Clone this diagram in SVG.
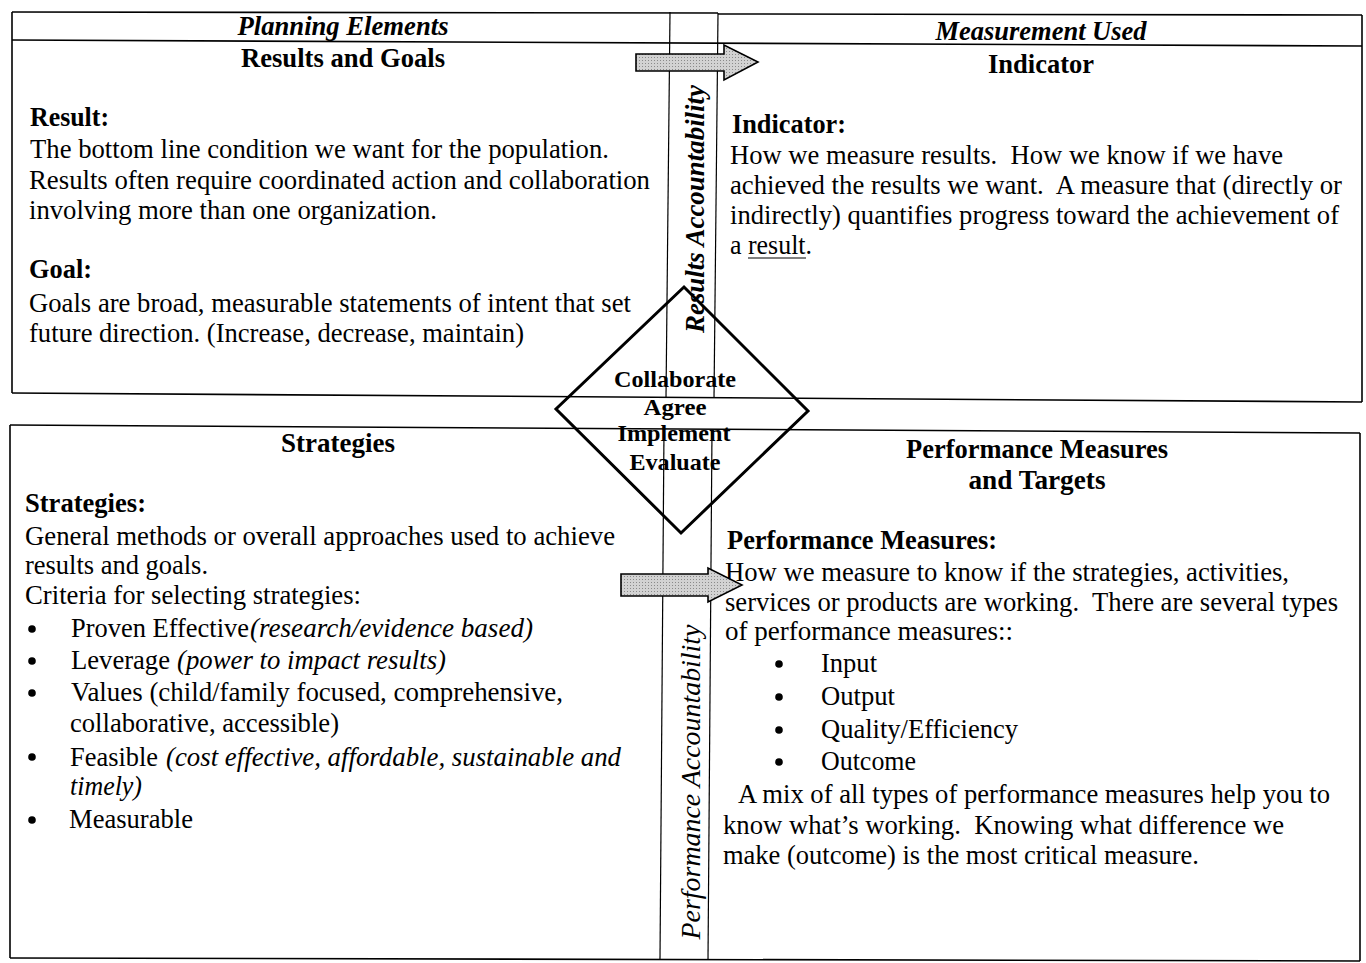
<svg xmlns="http://www.w3.org/2000/svg" width="1366" height="963" viewBox="0 0 1366 963" font-family="Liberation Serif, serif" font-size="26.5">
<defs>
<style>
.b{font-weight:bold}
.i{font-style:italic}
.bi{font-weight:bold;font-style:italic}
.c{text-anchor:middle}
.dm{font-size:24px;font-weight:bold;text-anchor:middle}
.ln{stroke:#000;stroke-width:1.6;fill:none}
.thin{stroke:#000;stroke-width:1.2;fill:none}
.arrow{stroke:#000;stroke-width:1.6;stroke-linejoin:miter}
</style>
<pattern id="stip" width="3" height="3" patternUnits="userSpaceOnUse">
<rect width="3" height="3" fill="#d2d2d2"/>
<rect width="1" height="1" fill="#8a8a8a"/>
</pattern>
</defs>
<rect width="1366" height="963" fill="#fff"/>
<g id="frame">
<line class="ln" x1="12" y1="12" x2="718" y2="13"/>
<line class="ln" x1="718" y1="14" x2="1362" y2="15"/>
<line class="ln" x1="12" y1="40" x2="1362" y2="46"/>
<line class="ln" x1="12" y1="12" x2="12" y2="393"/>
<line class="ln" x1="1362" y1="15" x2="1362" y2="402"/>
<line class="ln" x1="12" y1="393" x2="1362" y2="402"/>
<line class="thin" x1="670" y1="12" x2="666" y2="397"/>
<line class="thin" x1="718" y1="13" x2="714" y2="398"/>
<line class="ln" x1="10" y1="425" x2="1360" y2="433"/>
<line class="ln" x1="10" y1="425" x2="10" y2="958"/>
<line class="ln" x1="1360" y1="433" x2="1360" y2="961"/>
<line class="ln" x1="10" y1="958" x2="1360" y2="961"/>
<line class="thin" x1="664" y1="429" x2="660" y2="959"/>
<line class="thin" x1="712" y1="430" x2="708" y2="960"/>
</g>
<g id="headers" font-family="Liberation Serif, serif">
<text class="bi c" x="343" y="35" textLength="211" lengthAdjust="spacingAndGlyphs">Planning Elements</text>
<text class="bi c" x="1041" y="40" textLength="211" lengthAdjust="spacingAndGlyphs">Measurement Used</text>
</g>
<g id="node-results-goals" font-family="Liberation Serif, serif">
<text class="b c" x="343" y="67" textLength="204" lengthAdjust="spacingAndGlyphs">Results and Goals</text>
<text class="b" x="30" y="126" textLength="79" lengthAdjust="spacingAndGlyphs">Result:</text>
<text x="30" y="158" textLength="579" lengthAdjust="spacingAndGlyphs">The bottom line condition we want for the population.</text>
<text x="29" y="189" textLength="621" lengthAdjust="spacingAndGlyphs">Results often require coordinated action and collaboration</text>
<text x="29" y="219" textLength="408" lengthAdjust="spacingAndGlyphs">involving more than one organization.</text>
<text class="b" x="29" y="278" textLength="63" lengthAdjust="spacingAndGlyphs">Goal:</text>
<text x="29" y="312" textLength="602" lengthAdjust="spacingAndGlyphs">Goals are broad, measurable statements of intent that set</text>
<text x="29" y="342" textLength="495" lengthAdjust="spacingAndGlyphs">future direction. (Increase, decrease, maintain)</text>
</g>
<g id="node-indicator" font-family="Liberation Serif, serif">
<text class="b c" x="1041" y="73" textLength="106" lengthAdjust="spacingAndGlyphs">Indicator</text>
<text class="b" x="732" y="133" textLength="114" lengthAdjust="spacingAndGlyphs">Indicator:</text>
<text x="730" y="164" textLength="553" lengthAdjust="spacingAndGlyphs" xml:space="preserve">How we measure results.  How we know if we have</text>
<text x="730" y="194" textLength="612" lengthAdjust="spacingAndGlyphs" xml:space="preserve">achieved the results we want.  A measure that (directly or</text>
<text x="730" y="224" textLength="609" lengthAdjust="spacingAndGlyphs">indirectly) quantifies progress toward the achievement of</text>
<text x="730" y="254" textLength="82" lengthAdjust="spacingAndGlyphs">a result.</text>
<line class="thin" x1="748" y1="258" x2="806" y2="258"/>
</g>
<g id="node-strategies" font-family="Liberation Serif, serif">
<text class="b c" x="338" y="452" textLength="114" lengthAdjust="spacingAndGlyphs">Strategies</text>
<text class="b" x="25" y="512" textLength="121" lengthAdjust="spacingAndGlyphs">Strategies:</text>
<text x="25" y="545" textLength="590" lengthAdjust="spacingAndGlyphs">General methods or overall approaches used to achieve</text>
<text x="25" y="574" textLength="183" lengthAdjust="spacingAndGlyphs">results and goals.</text>
<text x="25" y="604" textLength="336" lengthAdjust="spacingAndGlyphs">Criteria for selecting strategies:</text>
<circle cx="32" cy="629" r="3.8"/>
<circle cx="32" cy="661" r="3.8"/>
<circle cx="32" cy="693" r="3.8"/>
<circle cx="32" cy="757" r="3.8"/>
<circle cx="32" cy="820" r="3.8"/>
<text y="637"><tspan x="71" textLength="178" lengthAdjust="spacingAndGlyphs">Proven Effective</tspan><tspan class="i" x="250" textLength="283" lengthAdjust="spacingAndGlyphs">(research/evidence based)</tspan></text>
<text y="669"><tspan x="71" textLength="99" lengthAdjust="spacingAndGlyphs">Leverage</tspan><tspan class="i" x="177" textLength="269" lengthAdjust="spacingAndGlyphs">(power to impact results)</tspan></text>
<text x="71" y="701" textLength="492" lengthAdjust="spacingAndGlyphs">Values (child/family focused, comprehensive,</text>
<text x="70" y="732" textLength="269" lengthAdjust="spacingAndGlyphs">collaborative, accessible)</text>
<text y="766"><tspan x="70" textLength="88" lengthAdjust="spacingAndGlyphs">Feasible</tspan><tspan class="i" x="166" textLength="455" lengthAdjust="spacingAndGlyphs">(cost effective, affordable, sustainable and</tspan></text>
<text class="i" x="70" y="795" textLength="72" lengthAdjust="spacingAndGlyphs">timely)</text>
<text x="69" y="828" textLength="124" lengthAdjust="spacingAndGlyphs">Measurable</text>
</g>
<g id="node-performance" font-family="Liberation Serif, serif">
<text class="b c" x="1037" y="458" textLength="262" lengthAdjust="spacingAndGlyphs">Performance Measures</text>
<text class="b c" x="1037" y="489" textLength="137" lengthAdjust="spacingAndGlyphs">and Targets</text>
<text class="b" x="727" y="549" textLength="270" lengthAdjust="spacingAndGlyphs">Performance Measures:</text>
<text x="725" y="581" textLength="564" lengthAdjust="spacingAndGlyphs">How we measure to know if the strategies, activities,</text>
<text x="725" y="611" textLength="613" lengthAdjust="spacingAndGlyphs" xml:space="preserve">services or products are working.  There are several types</text>
<text x="725" y="640" textLength="288" lengthAdjust="spacingAndGlyphs">of performance measures::</text>
<circle cx="779" cy="664" r="3.8"/>
<circle cx="779" cy="697" r="3.8"/>
<circle cx="779" cy="730" r="3.8"/>
<circle cx="779" cy="762" r="3.8"/>
<text x="821" y="672" textLength="56" lengthAdjust="spacingAndGlyphs">Input</text>
<text x="821" y="705" textLength="74" lengthAdjust="spacingAndGlyphs">Output</text>
<text x="821" y="738" textLength="197" lengthAdjust="spacingAndGlyphs">Quality/Efficiency</text>
<text x="821" y="770" textLength="95" lengthAdjust="spacingAndGlyphs">Outcome</text>
<text x="738" y="803" textLength="592" lengthAdjust="spacingAndGlyphs">A mix of all types of performance measures help you to</text>
<text x="723" y="834" textLength="561" lengthAdjust="spacingAndGlyphs" xml:space="preserve">know what’s working.  Knowing what difference we</text>
<text x="723" y="864" textLength="476" lengthAdjust="spacingAndGlyphs">make (outcome) is the most critical measure.</text>
</g>
<g id="accountability-labels" font-family="Liberation Serif, serif">
<text class="bi c" x="704" y="209" transform="rotate(-90 704 209)" textLength="248" lengthAdjust="spacingAndGlyphs">Results Accountability</text>
<text class="i c" x="700" y="782" transform="rotate(-90 700 782)" textLength="315" lengthAdjust="spacingAndGlyphs">Performance Accountability</text>
</g>
<g id="node-cycle" font-family="Liberation Serif, serif">
<polygon points="684,287 808,411 681,533 556,409" fill="none" stroke="#000" stroke-width="3" stroke-linejoin="miter"/>
<text class="dm" x="675" y="387" textLength="122" lengthAdjust="spacingAndGlyphs">Collaborate</text>
<text class="dm" x="675" y="415" textLength="63" lengthAdjust="spacingAndGlyphs">Agree</text>
<text class="dm" x="674" y="441" textLength="113" lengthAdjust="spacingAndGlyphs">Implement</text>
<text class="dm" x="675" y="470" textLength="91" lengthAdjust="spacingAndGlyphs">Evaluate</text>
</g>
<g id="connectors">
<polygon class="arrow" fill="url(#stip)" points="636,54 724,54 724,45 758,62 724,80 724,71 636,71"/>
<polygon class="arrow" fill="url(#stip)" points="621,574 708,574 708,568 742,585 708,602 708,596 621,596"/>
</g>
</svg>
